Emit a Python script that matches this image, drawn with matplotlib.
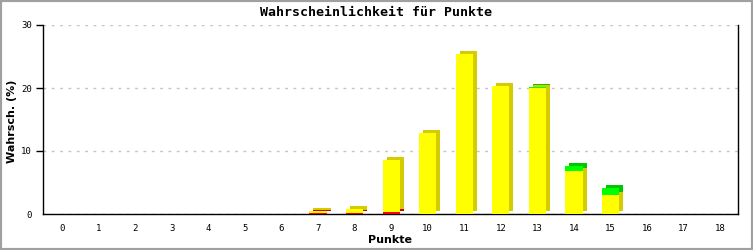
import numpy as np
import matplotlib
matplotlib.use("Agg")
import matplotlib.pyplot as plt
from matplotlib.patches import Rectangle

# data
points = list(range(19))
red = [0, 0, 0, 0, 0, 0, 0, 0.15, 0.15, 0.3, 0, 0, 0, 0, 0, 0, 0, 0, 0]
yellow = [0, 0, 0, 0, 0, 0, 0, 0.33, 0.65, 8.3, 12.9, 25.4, 20.3, 20.0, 6.8, 3.0, 0, 0, 0]
green = [0, 0, 0, 0, 0, 0, 0, 0, 0, 0, 0, 0, 0, 0.2, 0.8, 1.1, 0, 0, 0]
y_ticks = [0, 10, 20, 30]

series = [
    (red, "#ff0000", "#cc0000"),
    (yellow, "#ffff00", "#d4cc00"),
    (green, "#00ff00", "#00c800"),
]

fig = plt.figure(figsize=(7.53, 2.5), dpi=100)
ax = fig.add_axes([43 / 753, 36 / 250, 695.5 / 753, 189 / 250])

x = np.array(points, dtype=float)
width = 0.47
dx, dy = 0.11, 0.48  # fake 3d depth

# back faces first, then the fronts
bottom = np.zeros(len(points))
for vals, front, dark in series:
    v = np.array(vals)
    mask = v > 0
    ax.bar(x[mask] + dx, v[mask], width=width, bottom=bottom[mask] + dy,
           color=dark, linewidth=0, zorder=2)
    bottom += v

bottom = np.zeros(len(points))
for vals, front, dark in series:
    v = np.array(vals)
    mask = v > 0
    ax.bar(x[mask], v[mask], width=width, bottom=bottom[mask],
           color=front, linewidth=0, zorder=3)
    bottom += v

ax.set_xlim(-0.52, 18.5)
ax.set_ylim(0, 30)
ax.set_xticks(points)
ax.set_yticks(y_ticks)
ax.tick_params(axis="x", length=0, pad=7, labelsize=6.5)
ax.tick_params(axis="y", length=5, width=1, direction="out", pad=3, labelsize=6.5)
ax.yaxis.get_major_ticks()[0].tick1line.set_visible(False)
for lbl in ax.get_xticklabels() + ax.get_yticklabels():
    lbl.set_family("DejaVu Sans Mono")

ax.yaxis.grid(True, linestyle=(0, (2, 4)), color="#c4c4c4", linewidth=1)
ax.set_axisbelow(True)
ax.spines["top"].set_visible(False)
for s in ("left", "bottom", "right"):
    ax.spines[s].set_linewidth(1)
    ax.spines[s].set_color("black")

fig.text(0.5, 1 - 13 / 250, "Wahrscheinlichkeit für Punkte", ha="center", va="center",
         family="DejaVu Sans Mono", fontweight="bold", fontsize=9.5)
fig.text(12 / 753, 1 - 121 / 250, "Wahrsch. (%)", rotation=90, ha="center", va="center",
         fontweight="bold", fontsize=8)
fig.text(390 / 753, 1 - 240 / 250, "Punkte", ha="center", va="center",
         fontweight="bold", fontsize=8)

fig.add_artist(Rectangle((0, 0), 1, 1, transform=fig.transFigure, fill=False,
                         edgecolor="#a0a0a0", linewidth=3))

fig.savefig("out.png", dpi=100)
